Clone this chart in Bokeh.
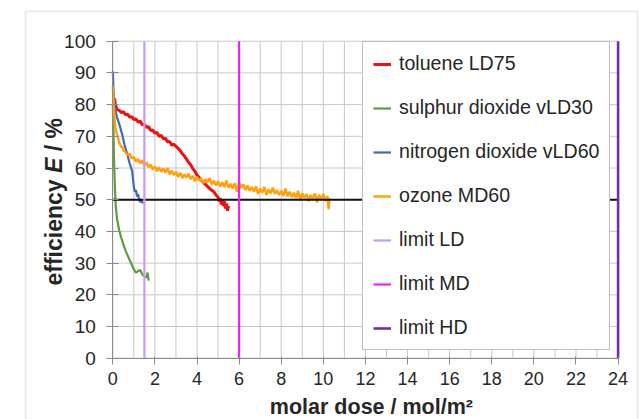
import math
from bokeh.plotting import figure
from bokeh.models import Range1d, FixedTicker, Label, BoxAnnotation
from bokeh.embed import file_html
from bokeh.resources import INLINE

# ---------------- data ----------------
x_ticks = [0, 2, 4, 6, 8, 10, 12, 14, 16, 18, 20, 22, 24]
x_minor = [1, 3, 5, 7, 9, 11, 13, 15, 17, 19, 21, 23]
y_ticks = [0, 10, 20, 30, 40, 50, 60, 70, 80, 90, 100]

tol_x = [0.08, 0.12, 0.2, 0.3, 0.4, 0.5, 0.6, 0.7, 0.8, 0.9, 1.0, 1.1, 1.2, 1.3, 1.4,
         1.5, 1.6, 1.7, 1.8, 1.9, 2.0, 2.1, 2.2, 2.3, 2.4, 2.5, 2.6, 2.7, 2.8, 2.9,
         3.0, 3.1, 3.2, 3.3, 3.4, 3.5, 3.6, 3.7, 3.8, 3.9, 4.0, 4.1, 4.2, 4.3, 4.4,
         4.5, 4.6, 4.7, 4.8, 4.9, 5.0, 5.05, 5.1, 5.15, 5.2, 5.25, 5.3, 5.35, 5.4,
         5.45, 5.5]
tol_y = [82, 80, 78.5, 78.2, 77.5, 77.8, 76.8, 77, 76, 76.2, 75.3, 75.5, 74.5, 74.8, 73.6,
         73.8, 72.8, 73, 71.8, 72, 71, 71.2, 70, 70.3, 69.2, 69.4, 68.2, 68.4, 67.2, 67.5,
         66.8, 66.2, 65.5, 64.5, 63.8, 62.8, 61.8, 61, 59.8, 59, 57.8, 57, 56.2, 55.5, 54.8,
         54.2, 53.5, 53, 52.5, 51.5, 50.8, 49.5, 50.5, 48.5, 50, 48, 49.5, 47.2, 48.8,
         46.5, 48]

so2_x = [0.0, 0.03, 0.06, 0.1, 0.14, 0.2, 0.3, 0.4, 0.5, 0.6, 0.7, 0.8, 0.9, 1.0,
         1.1, 1.2, 1.3, 1.4, 1.5, 1.6, 1.65, 1.7]
so2_y = [80, 72, 62, 54, 48, 44, 40.5, 38, 36, 34, 32.5, 31, 29.5, 28,
         27, 27.5, 27.8, 26.5, 25.8, 25.5, 27, 24.5]

no2_x = [0.0, 0.02, 0.05, 0.1, 0.2, 0.3, 0.45, 0.55, 0.68, 0.8, 0.92, 0.96, 1.0,
         1.05, 1.1, 1.15, 1.2, 1.25, 1.3, 1.35, 1.4, 1.45]
no2_y = [90.5, 87, 82, 79, 76, 74, 70.5, 67.5, 64.5, 61.5, 59, 56.5, 54,
         52.5, 53, 51, 51.8, 50, 49.3, 50.2, 49, 49.3]

o3_x = [0.0, 0.02, 0.05, 0.08, 0.1, 0.15, 0.2, 0.25, 0.3, 0.35, 0.4, 0.45,
        0.5, 0.6, 0.7, 0.8, 0.9, 1.0, 1.1, 1.2, 1.3, 1.4, 1.5, 1.6, 1.7, 1.8, 1.9,
        2.0, 2.1, 2.2, 2.3, 2.4, 2.5, 2.6, 2.7, 2.8, 2.9,
        3.0, 3.1, 3.2, 3.3, 3.4, 3.5, 3.6, 3.7, 3.8, 3.9,
        4.0, 4.1, 4.2, 4.3, 4.4, 4.5, 4.6, 4.7, 4.8, 4.9,
        5.0, 5.1, 5.2, 5.3, 5.4, 5.5, 5.6, 5.7, 5.8, 5.9,
        6.0, 6.1, 6.2, 6.3, 6.4, 6.5, 6.6, 6.7, 6.8, 6.9,
        7.0, 7.1, 7.2, 7.3, 7.4, 7.5, 7.6, 7.7, 7.8, 7.9,
        8.0, 8.1, 8.2, 8.3, 8.4, 8.5, 8.6, 8.7, 8.8, 8.9,
        9.0, 9.1, 9.2, 9.3, 9.4, 9.5, 9.6, 9.7, 9.8, 9.9,
        10.0, 10.1, 10.2, 10.25, 10.3]
o3_y = [86, 83, 79, 76, 74, 72, 70.5, 69.5, 68, 67.5, 66.5, 66.8,
        65.5, 65, 64, 64.5, 63, 63.5, 62, 62.8, 61.5, 62.5, 60.8, 61.8, 60.2, 61, 59.5,
        60.5, 59, 60.2, 58.8, 59.8, 58.5, 60, 58, 59.2, 57.8,
        58.8, 57.2, 58.5, 56.8, 58, 57, 58.2, 56.5, 57.5, 55.8,
        57.2, 56, 56.8, 55.2, 56.5, 55.5, 56.8, 54.8, 56, 54.5,
        55.8, 54.2, 55.5, 54, 56, 53.8, 55, 53.5, 55.2, 52.5,
        55.5, 53.8, 54.8, 53, 54.5, 52.8, 54, 52.5, 54.2, 51.8,
        53.5, 52.2, 54, 51.5, 53.2, 52, 53.8, 51.8, 53, 51.5,
        52.8, 51.2, 53.5, 51, 52.5, 50.8, 52.2, 50.5, 52.8, 49.8,
        52, 50.5, 51.8, 49.5, 51.5, 50.2, 52, 49.2, 51.5, 50,
        51.8, 49.5, 51.2, 47, 50.5]

limit_ld = 1.5
limit_md = 6.0
limit_hd = 24.0
threshold = 50
x_min, x_max = 0, 24
y_min, y_max = 0, 100

# ---------------- layout (pixels) ----------------
W, H = 643, 419
PX0, PX1 = 112.3, 617.6      # x=0 and x=24 on the canvas
PY0, PY1 = 357.7, 40.7       # y=0 and y=100 on the canvas
sx = (PX1 - PX0) / (x_max - x_min)
sy = (PY0 - PY1) / (y_max - y_min)

FONT = "Liberation Sans"
TXT = "#262626"
GRID = "#c8c8c8"
AX = "#8a8a8a"

p = figure(width=W, height=H,
           x_range=Range1d(x_min - PX0 / sx, x_min + (W - PX0) / sx),
           y_range=Range1d(y_min - (H - PY0) / sy, y_min + PY0 / sy),
           output_backend="svg", toolbar_location=None,
           min_border=0, min_border_left=0, min_border_right=0,
           min_border_top=0, min_border_bottom=0)
p.title.visible = False
p.outline_line_color = None
p.background_fill_color = "white"
p.border_fill_color = "white"
p.grid.visible = False

# axes drawn at the data origin
p.xaxis.fixed_location = y_min
p.yaxis.fixed_location = x_min
p.xaxis.bounds = (x_min, x_max)
p.yaxis.bounds = (y_min, y_max)
p.xaxis.ticker = FixedTicker(ticks=x_ticks)
p.yaxis.ticker = FixedTicker(ticks=y_ticks)
for ax in (p.xaxis, p.yaxis):
    ax.axis_line_color = AX
    ax.major_tick_line_color = AX
    ax.minor_tick_line_color = None
    ax.major_label_text_font = FONT
    ax.major_label_text_color = TXT
p.xaxis.major_tick_in = 2
p.xaxis.major_tick_out = 6
p.xaxis.major_label_standoff = 8
p.xaxis.major_label_text_font_size = "18px"
p.yaxis.major_tick_in = 6
p.yaxis.major_tick_out = 6
p.yaxis.major_label_standoff = 11
p.yaxis.major_label_text_font_size = "19px"

# grid lines (every 1 in x, every 10 in y)
gx = x_ticks + x_minor
p.segment(x0=gx, y0=[y_min] * len(gx), x1=gx, y1=[y_max] * len(gx),
          line_color=GRID, line_width=1)
p.segment(x0=[x_min] * len(y_ticks), y0=y_ticks, x1=[x_max] * len(y_ticks), y1=y_ticks,
          line_color=GRID, line_width=1)

p.line(tol_x, tol_y, line_color="#ee1111", line_width=3, legend_label="toluene LD75")
p.line(so2_x, so2_y, line_color="#5f9b3f", line_width=2.2, legend_label="sulphur dioxide vLD30")
p.line(no2_x, no2_y, line_color="#4169b4", line_width=2.2, legend_label="nitrogen dioxide vLD60")
p.line(o3_x, o3_y, line_color="#ffa10a", line_width=2.4, legend_label="ozone MD60")
p.line([x_min, x_max], [threshold, threshold], line_color="#111111", line_width=2)
p.line([limit_ld, limit_ld], [y_min, y_max], line_color="#c49cf0", line_width=2.2, legend_label="limit LD")
p.line([limit_md, limit_md], [y_min, y_max], line_color="#ee22ee", line_width=2.2, legend_label="limit MD")
p.line([limit_hd, limit_hd], [y_min, y_max], line_color="#7030a0", line_width=2.6, legend_label="limit HD")

lg = p.legend[0]
lg.location = (362, H - 350)
lg.margin = 0
lg.padding = 10
lg.spacing = 21
lg.label_height = 20
lg.glyph_height = 20
lg.glyph_width = 18
lg.label_standoff = 8
lg.label_text_font = FONT
lg.label_text_font_size = "19.6px"
lg.label_text_color = TXT
lg.border_line_color = "#7f7f7f"
lg.border_line_width = 1
lg.background_fill_color = "white"
lg.background_fill_alpha = 1

# y axis title (mixed styles), screen units from bottom-left of canvas
base_y = H - 285
for txt, off, style in [("efficiency", 0, "bold"), ("E", 112.5, "bold italic"), ("/ %", 134.2, "bold")]:
    p.add_layout(Label(x=53.5, y=base_y + off, x_units="screen", y_units="screen", text=txt,
                       angle=math.pi / 2, text_font=FONT, text_font_style=style,
                       text_font_size="23px", text_color=TXT,
                       text_align="left", text_baseline="middle"))
# x axis title
p.add_layout(Label(x=370.9, y=H - 406, x_units="screen", y_units="screen",
                   text="molar dose / mol/m²", text_font=FONT, text_font_style="bold",
                   text_font_size="21.5px", text_color=TXT,
                   text_align="center", text_baseline="middle"))

# outer chart frame
p.add_layout(BoxAnnotation(left=25, right=637, top=H - 11, bottom=-20,
                           left_units="screen", right_units="screen",
                           top_units="screen", bottom_units="screen",
                           fill_color=None, line_color="#c0c0c0", line_width=2))

open("out.html", "w").write(file_html(p, INLINE))
